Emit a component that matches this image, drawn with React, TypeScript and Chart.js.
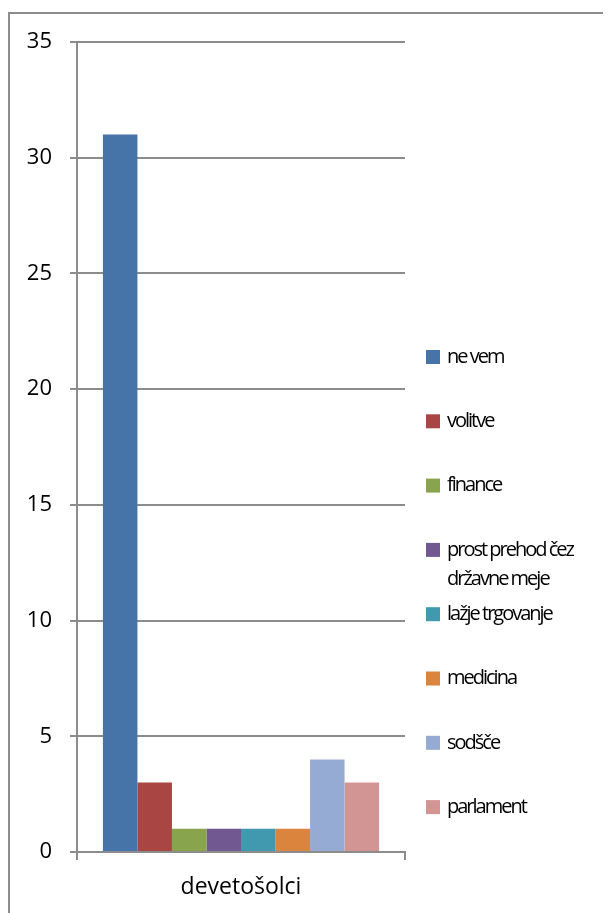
import React, { useEffect, useRef } from "react";
import { Chart, registerables } from "chart.js";

Chart.register(...registerables);

const categories = ["devetošolci"];
const seriesNames = [
  "ne vem",
  "volitve",
  "finance",
  "prost prehod čez\ndržavne meje",
  "lažje trgovanje",
  "medicina",
  "sodšče",
  "parlament",
];
const seriesValues = [31, 3, 1, 1, 1, 1, 4, 3];
const seriesColors = ["#4674A8", "#A94542", "#88A44D", "#725891", "#4199B0", "#DB843D", "#95ABD3", "#D39594"];
const yMin = 0;
const yMax = 35;
const yStep = 5;

const FONT = "'Open Sans', 'Noto Sans', sans-serif";
const GRID = "#8c8c8c";

const sideLegend = {
  id: "sideLegend",
  afterDraw(chart: any) {
    const ctx = chart.ctx;
    const { right, top } = chart.chartArea;
    ctx.save();
    ctx.font = `20px ${FONT}`;
    try {
      (ctx as any).letterSpacing = "-2px";
    } catch (e) {}
    ctx.textBaseline = "middle";
    ctx.textAlign = "left";
    chart.data.datasets.forEach((ds: any, i: number) => {
      const y = top + 315 + i * 64.3;
      ctx.fillStyle = ds.backgroundColor;
      ctx.fillRect(right + 21, y - 7, 14, 14);
      ctx.fillStyle = "#000";
      String(ds.label)
        .split("\n")
        .forEach((line: string, j: number) => ctx.fillText(line, right + 42, y + j * 29));
    });
    ctx.restore();
  },
};

export default function App() {
  const ref = useRef<HTMLCanvasElement | null>(null);

  useEffect(() => {
    if (!ref.current) return;
    const chart = new Chart(ref.current, {
      type: "bar",
      data: {
        labels: categories,
        datasets: seriesNames.map((name, i) => ({
          label: name,
          data: [seriesValues[i]],
          backgroundColor: seriesColors[i],
          borderWidth: 0,
          barPercentage: 1,
          categoryPercentage: 0.842,
        })),
      },
      options: {
        responsive: false,
        animation: false,
        devicePixelRatio: 1,
        layout: { padding: { top: 28, right: 206, left: 0, bottom: 0 } },
        plugins: {
          legend: { display: false },
          tooltip: { enabled: false },
        },
        scales: {
          x: {
            offset: true,
            grid: {
              display: true,
              drawOnChartArea: false,
              offset: true,
              color: GRID,
              lineWidth: 2,
              tickLength: 8,
            },
            border: { display: true, color: GRID, width: 2 },
            ticks: { font: { family: FONT, size: 23 }, color: "#000", padding: 14 },
            afterFit: (s: any) => {
              s.height = 61;
            },
          },
          y: {
            min: yMin,
            max: yMax,
            ticks: { stepSize: yStep, font: { family: FONT, size: 22 }, color: "#000", padding: 18 },
            grid: { color: GRID, lineWidth: 2, tickLength: 7 },
            border: { display: true, color: GRID, width: 2 },
            afterFit: (s: any) => {
              s.width = 67;
              s.paddingTop = 0;
              s.paddingBottom = 0;
            },
          },
        },
      },
      plugins: [sideLegend],
    });
    return () => chart.destroy();
  }, []);

  return (
    <div
      style={{
        marginTop: 4,
        borderLeft: "2px solid #8c8c8c",
        borderTop: "2px solid #8c8c8c",
        width: 601,
        height: 899,
        background: "#fff",
      }}
    >
      <canvas ref={ref} width={601} height={899} style={{ display: "block" }} />
    </div>
  );
}
